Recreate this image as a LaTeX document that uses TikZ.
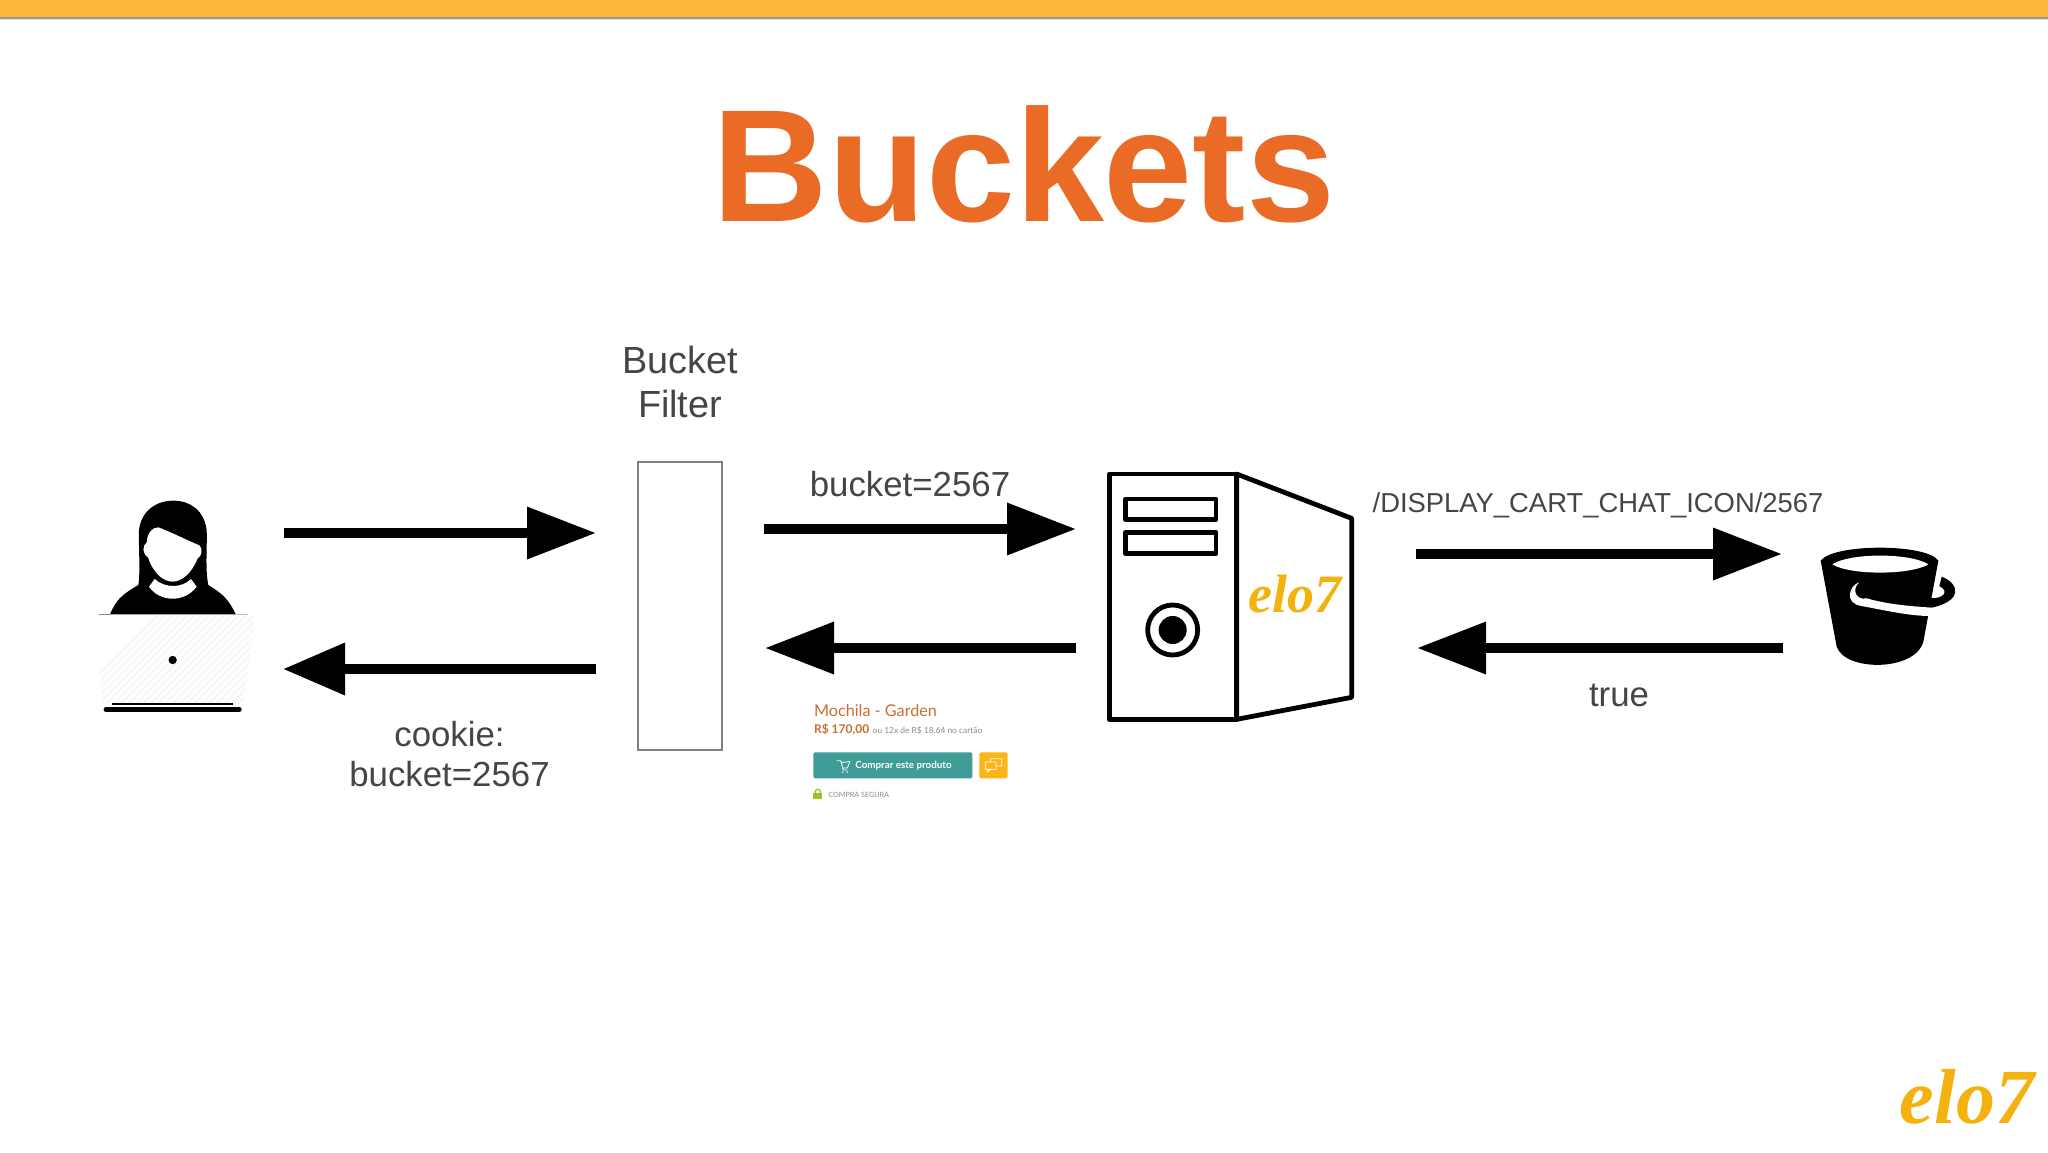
\documentclass[tikz,border=0pt]{standalone}
\usepackage{fontspec}
\setmainfont{Liberation Sans}
\newfontfamily\cardfont{Lato}
\newfontfamily\brandfont{Liberation Serif}
\usetikzlibrary{arrows.meta}
\definecolor{barcol}{HTML}{FDB73A}
\definecolor{titlecol}{HTML}{E96B25}
\definecolor{labelcol}{HTML}{454545}
\definecolor{brandcol}{HTML}{F4B20F}
\definecolor{cardorange}{HTML}{C96E30}
\definecolor{cardgrey}{HTML}{8A8A8A}
\definecolor{cardteal}{HTML}{3F9C96}
\definecolor{cardyellow}{HTML}{FBB516}
\definecolor{cardgreen}{HTML}{9CC41E}
\definecolor{hatchcol}{HTML}{F7F6F9}
\tikzset{
  flow/.style={line width=5pt,-{Triangle[length=34.5pt,width=25pt]},black},
  flowshort/.style={line width=5pt,-{Triangle[length=31pt,width=25pt]},black},
  label/.style={text=labelcol,inner sep=0pt,align=center,font=\fontsize{17.4}{20}\selectfont},
  srv/.style={draw=black,line width=2.4pt,line join=round,fill=white},
  zoomed/.style={shift={#1},scale=1/3},
}
\begin{document}
\begin{tikzpicture}[x=0.5pt,y=-0.5pt]
\useasboundingbox (0,0) rectangle (2048,1152);
\fill[white] (0,0) rectangle (2048,1152);
\fill[black!12] (0,18) rectangle (2048,20);
\fill[black!40] (0,17) rectangle (2048,18.5);
\fill[barcol] (0,0) rectangle (2048,17);
\node[text=titlecol,inner sep=0pt,font=\fontsize{80}{90}\selectfont\bfseries] (title) at (1024,164) {Buckets};

% user
\begin{scope}[zoomed={(70,470)}]
\fill[black] (120,433) .. controls (140,385) and (160,372) .. (205,345)
  .. controls (212,300) and (205,230) .. (207,180)
  .. controls (215,120) and (260,92) .. (310,92)
  .. controls (360,92) and (402,120) .. (410,180)
  .. controls (412,230) and (405,300) .. (415,345)
  .. controls (455,370) and (475,385) .. (497,433) -- cycle;
\fill[white] (265,172) .. controls (300,185) and (350,210) .. (388,226)
  .. controls (400,235) and (395,260) .. (383,265)
  .. controls (365,310) and (335,335) .. (308,335)
  .. controls (280,335) and (250,310) .. (234,262)
  .. controls (215,250) and (218,225) .. (230,218)
  .. controls (232,190) and (245,172) .. (265,172) -- cycle;
\fill[white] (254,327) .. controls (285,355) and (335,355) .. (363,327)
  -- (380,350) .. controls (345,398) and (270,398) .. (237,350) -- cycle;
\fill[black!45] (88,432) rectangle (120,434.5);
\fill[black!25] (497,432) rectangle (535,434.5);
\path[fill=white] (70,436) -- (550,436) -- (550,480) -- (520,700) -- (100,700) -- (70,480) -- cycle;
\begin{scope}
  \clip (70,436) -- (550,436) -- (550,480) -- (520,700) -- (100,700) -- (70,480) -- cycle;
  \foreach \k in {0,22,...,770}{
    \draw[hatchcol,line width=1.2pt] (\k,700) -- (\k+270,430);
  }
\end{scope}
\fill[black] (308,570) circle (12.5);
\draw[line width=1pt,black] (125,703) -- (490,703);
\draw[line width=2.4pt,line cap=round,black] (108,718) -- (508,718);
\end{scope}

% filter
\node[draw=black!50,line width=1pt,minimum width=42pt,minimum height=144pt,inner sep=0pt] (filter) at (680,606) {};
\node[label,font=\fontsize{18.9}{22.4}\selectfont] (filterlabel) at (680,382) {Bucket\\Filter};

% server
\begin{scope}[zoomed={(1090,460)}]
\path[srv] (440,42) -- (785,175) -- (785,712) -- (440,778) -- cycle;
\path[srv] (58,42) rectangle (440,778);
\path[srv] (107,117) rectangle (378,178);
\path[srv] (107,217) rectangle (378,280);
\draw[black,line width=2.4pt] (248,510) circle (75);
\fill[black] (248,510) circle (42);
\end{scope}
\node[text=brandcol,inner sep=0pt,font=\fontsize{27}{27}\brandfont\bfseries\itshape] (serverlogo) at (1295,594) {elo7};

% bucket
\begin{scope}[zoomed={(1800,530)}]
\fill[black] (425,140) .. controls (478,160) and (493,215) .. (385,235)
  -- (392,204) .. controls (425,208) and (452,185) .. (418,168) -- cycle;
\fill[black] (62,92) .. controls (100,40) and (380,40) .. (415,92)
  -- (370,335) .. controls (345,425) and (135,425) .. (110,350) -- cycle;
\fill[white] (97,103) .. controls (150,68) and (330,68) .. (385,103)
  .. controls (330,136) and (150,136) .. (97,103) -- cycle;
\fill[white] (178,157) .. controls (148,165) and (130,220) .. (185,228)
  .. controls (260,242) and (330,258) .. (390,258)
  -- (396,233) .. controls (320,228) and (260,222) .. (200,205)
  .. controls (165,212) and (155,175) .. (178,157) -- cycle;
\end{scope}

% arrow ends
\coordinate (a1s) at (284,533); \coordinate (a1e) at (596,533);
\coordinate (a2s) at (596,669); \coordinate (a2e) at (283,669);
\coordinate (a3s) at (764,529); \coordinate (a3e) at (1076,529);
\coordinate (a4s) at (1076,648); \coordinate (a4e) at (765,648);
\coordinate (a5s) at (1416,554); \coordinate (a5e) at (1782,554);
\coordinate (a6s) at (1783,648); \coordinate (a6e) at (1417,648);
\draw[flow] (a1s) -- (a1e);
\draw[flowshort] (a2s) -- (a2e);
\draw[flow] (a3s) -- (a3e);
\draw[flow] (a4s) -- (a4e);
\draw[flow] (a5s) -- (a5e);
\draw[flow] (a6s) -- (a6e);

% labels
\node[label] (lab1) at (449.5,754) {cookie:\\bucket=2567};
\node[label] (lab2) at (910,484) {bucket=2567};
\node[label,font=\fontsize{13.7}{16}\selectfont] (lab3) at (1598,505) {/DISPLAY\_CART\_CHAT\_ICON/2567};
\node[label] (lab4) at (1619,695) {true};

% card
\begin{scope}[zoomed={(790,690)}]
\node[anchor=base west,inner sep=0pt,text=cardorange,font=\cardfont\fontsize{8.1}{10}\selectfont] (c1) at (71,78) {Mochila - Garden};
\node[anchor=base west,inner sep=0pt,text=cardorange,font=\cardfont\bfseries\fontsize{6}{8}\selectfont] (c2) at (71,131) {R\$ 170,00};
\node[anchor=base west,inner sep=0pt,text=cardgrey,font=\cardfont\fontsize{4.2}{5}\selectfont] (c3) at (247,130) {ou 12x de R\$ 18,64 no cartão};
\fill[cardteal,rounded corners=1pt] (70,187) rectangle (547,265);
\node[anchor=base west,inner sep=0pt,text=white,font=\cardfont\bfseries\fontsize{4.9}{6}\selectfont] (c4) at (195,235) {Comprar este produto};
\draw[white,line width=0.4pt,line join=round] (140,212) -- (152,212) -- (160,240) -- (172,240) (154,218) -- (180,214) -- (172,234) -- (160,234);
\fill[white] (158,246) circle (2.5) (172,246) circle (2.5);
\fill[cardyellow,rounded corners=1pt] (568,187) rectangle (653,265);
\draw[white,line width=0.4pt,line join=round] (586,216) rectangle (618,238) (594,238) -- (592,246) -- (602,238) (602,216) -- (602,206) -- (635,206) -- (635,228) -- (618,228);
\fill[cardgreen] (70,310) rectangle (97,328);
\draw[cardgreen,line width=0.6pt] (76,310) -- (76,304) .. controls (76,296) and (91,296) .. (91,304) -- (91,310);
\node[anchor=base west,inner sep=0pt,text=cardgrey,font=\cardfont\fontsize{3.6}{5}\selectfont] (c5) at (114,322) {COMPRA SEGURA};
\end{scope}

% logo
\node[text=brandcol,inner sep=0pt,font=\fontsize{39}{39}\brandfont\bfseries\itshape] (logo) at (1967,1097) {elo7};
\end{tikzpicture}
\end{document}
